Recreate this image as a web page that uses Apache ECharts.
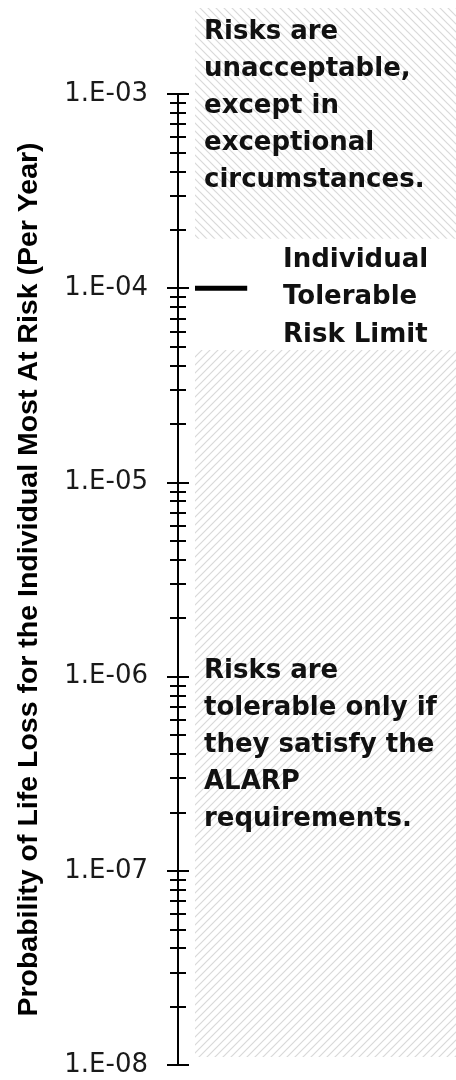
<!DOCTYPE html>
<html>
<head>
<meta charset="utf-8">
<script src="https://cdn.jsdelivr.net/npm/echarts@6/dist/echarts.min.js"></script>
<style>
  html, body { margin: 0; padding: 0; background: #fff; }
  #chart { width: 456px; height: 1080px; }
</style>
</head>
<body>
<div id="chart"></div>
<script>
// Decade ticks of the probability axis and their labels
const majorTicks = [1e-8, 1e-7, 1e-6, 1e-5, 1e-4, 1e-3];
const tickLabels = ['1.E-08', '1.E-07', '1.E-06', '1.E-05', '1.E-04', '1.E-03'];

// Risk bands (probability of life loss per year)
const unacceptableFloor = 1.8e-4;
const tolerableCeiling = 4.8e-5;
const tolerableFloor = 1.1e-8;

// Individual tolerable risk limit, drawn as a short dash on the band scale (0..100)
const riskLimit = 1e-4;
const limitSpan = [0, 20];

const axisTitle = 'Probability of Life Loss for the Individual Most At Risk (Per Year)';
const unacceptableText = ['Risks are', 'unacceptable,', 'except in', 'exceptional', 'circumstances.'];
const limitText = ['Individual', 'Tolerable', 'Risk Limit'];
const tolerableText = ['Risks are', 'tolerable only if', 'they satisfy the', 'ALARP', 'requirements.'];

// Minor ticks at 2..9 within each decade
const minorTicks = [];
for (let e = -8; e < -3; e++) {
  for (let m = 2; m <= 9; m++) minorTicks.push(+(m * Math.pow(10, e)).toPrecision(3));
}

// Layout
const AXIS_TOP = 94, AXIS_BOTTOM = 1065, BAND_TOP = 8;
const AXIS_X = 178, BAND_X = 195;
const H = 1080;
const decadePx = (AXIS_BOTTOM - AXIS_TOP) / (majorTicks.length - 1);
// the band grid reaches above the axis; extend its scale by the same px per decade
const bandMax = majorTicks[majorTicks.length - 1] * Math.pow(10, (AXIS_TOP - BAND_TOP) / decadePx);

function hatch(dir) {
  const s = 8;
  const c = document.createElement('canvas');
  c.width = c.height = s;
  const g = c.getContext('2d');
  g.strokeStyle = '#d9d9d9';
  g.lineWidth = 1.2;
  g.beginPath();
  if (dir > 0) {          // '/'
    g.moveTo(0, s); g.lineTo(s, 0);
    g.moveTo(-s / 2, s / 2); g.lineTo(s / 2, -s / 2);
    g.moveTo(s / 2, s * 1.5); g.lineTo(s * 1.5, s / 2);
  } else {                // '\'
    g.moveTo(0, 0); g.lineTo(s, s);
    g.moveTo(-s / 2, s / 2); g.lineTo(s / 2, s * 1.5);
    g.moveTo(s / 2, -s / 2); g.lineTo(s * 1.5, s / 2);
  }
  g.stroke();
  return { image: c, repeat: 'repeat' };
}

const tickStyle = { color: '#000', width: 2 };
function tickAxis(values, len, inside) {
  return {
    type: 'log', gridIndex: 0, position: 'left', min: majorTicks[0], max: majorTicks[majorTicks.length - 1],
    axisLine: { show: false },
    axisLabel: { show: false },
    splitLine: { show: false },
    axisTick: { show: true, inside: inside, length: len, lineStyle: tickStyle, customValues: values }
  };
}

const chart = echarts.init(document.getElementById('chart'), null, { renderer: 'canvas' });

const textFont = 'bold 26px "DejaVu Sans"';

chart.setOption({
  animation: false,
  backgroundColor: '#fff',
  grid: [
    { left: AXIS_X, right: 0, top: AXIS_TOP, bottom: H - AXIS_BOTTOM, containLabel: false },
    { left: BAND_X, right: 0, top: BAND_TOP, bottom: H - AXIS_BOTTOM, containLabel: false }
  ],
  xAxis: [
    { type: 'value', gridIndex: 0, show: false, min: 0, max: 100 },
    { type: 'value', gridIndex: 1, show: false, min: 0, max: 100 }
  ],
  yAxis: [
    {
      type: 'log', gridIndex: 0, position: 'left',
      min: majorTicks[0], max: majorTicks[majorTicks.length - 1],
      name: axisTitle, nameLocation: 'middle', nameGap: 134,
      nameTextStyle: { fontFamily: 'Liberation Sans', fontWeight: 'bold', fontSize: 28.5, color: '#000' },
      axisLine: { show: true, lineStyle: { color: '#000', width: 2 } },
      axisTick: { show: true, length: 11, lineStyle: tickStyle, customValues: majorTicks },
      axisLabel: {
        show: true, margin: 30, fontFamily: 'DejaVu Sans', fontSize: 26, color: '#1a1a1a',
        customValues: majorTicks,
        formatter: function (v) {
          const i = Math.round(Math.log10(v)) - Math.round(Math.log10(majorTicks[0]));
          return tickLabels[i] || '';
        }
      },
      splitLine: { show: false }
    },
    tickAxis(majorTicks, 11, true),
    tickAxis(minorTicks, 8, false),
    tickAxis(minorTicks, 8, true),
    {
      type: 'log', gridIndex: 1, show: false, min: majorTicks[0], max: bandMax,
      splitLine: { show: false }
    }
  ],
  series: [
    {
      name: 'Individual Tolerable Risk Limit',
      type: 'line',
      xAxisIndex: 1, yAxisIndex: 4,
      data: [[limitSpan[0], riskLimit], [limitSpan[1], riskLimit]],
      symbol: 'none',
      lineStyle: { color: '#000', width: 5, cap: 'butt' },
      z: 5,
      markArea: {
        silent: true,
        z: 1,
        data: [
          [{ xAxis: 0, yAxis: unacceptableFloor, itemStyle: { color: hatch(-1) } }, { xAxis: 100, yAxis: bandMax }],
          [{ xAxis: 0, yAxis: tolerableFloor, itemStyle: { color: hatch(1) } }, { xAxis: 100, yAxis: tolerableCeiling }]
        ]
      }
    }
  ],
  graphic: [
    { type: 'text', left: 204, top: 14, z: 10,
      style: { text: unacceptableText.join('\n'), font: textFont, lineHeight: 37, fill: '#111' } },
    { type: 'text', left: 283, top: 241, z: 10,
      style: { text: limitText.join('\n'), font: textFont, lineHeight: 37.5, fill: '#111' } },
    { type: 'text', left: 204, top: 653, z: 10,
      style: { text: tolerableText.join('\n'), font: textFont, lineHeight: 37, fill: '#111' } }
  ]
});
</script>
</body>
</html>
